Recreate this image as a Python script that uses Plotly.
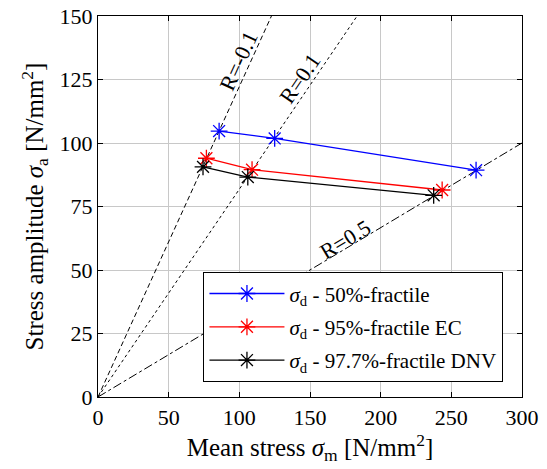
import math
import plotly.graph_objects as go

# Data
r_values = [-0.1, 0.1, 0.5]
r_labels = ["R=-0.1", "R=0.1", "R=0.5"]
r_dash = ["5px,3px", "dot", "dashdot"]
r_label_pos_x = [99.8, 143.0, 175.0]
r_label_pos_y = [132.3, 125.2, 62.0]

series_names = ["<i>σ</i><sub>d</sub> - 50%-fractile",
                "<i>σ</i><sub>d</sub> - 95%-fractile EC",
                "<i>σ</i><sub>d</sub> - 97.7%-fractile DNV"]
series_colors = ["#0000ff", "#ff0000", "#000000"]
x_blue = [85.7, 125.0, 267.5]
y_blue = [104.7, 101.8, 89.3]
x_red = [76.7, 109.0, 243.5]
y_red = [94.0, 89.5, 81.5]
x_black = [74.3, 106.0, 237.5]
y_black = [90.6, 86.6, 79.4]

x_ticks = [0, 50, 100, 150, 200, 250, 300]
y_ticks = [0, 25, 50, 75, 100, 125, 150]
x_max, y_max = 300, 150

FONT = "Liberation Serif"
fig = go.Figure()

for R, dash in zip(r_values, r_dash):
    k = (1 - R) / (1 + R)
    xe = min(x_max, y_max / k)
    ye = k * xe
    fig.add_trace(go.Scatter(x=[0, xe], y=[0, ye], mode="lines",
                             line=dict(color="black", width=1, dash=dash),
                             showlegend=False, hoverinfo="skip"))

for i, (name, col, xs, ys) in enumerate(zip(series_names, series_colors,
                                            [x_blue, x_red, x_black], [y_blue, y_red, y_black])):
    fig.add_trace(go.Scatter(x=xs, y=ys, mode="lines+markers", name=name,
                             legendgroup=f"g{i}",
                             line=dict(color=col, width=1.3),
                             marker=dict(symbol="asterisk-open", size=14,
                                         color=col, line=dict(color=col, width=1.3))))

plot_w, plot_h = 424, 381
for R, lab, lx, ly in zip(r_values, r_labels, r_label_pos_x, r_label_pos_y):
    k = (1 - R) / (1 + R)
    ang = math.degrees(math.atan(k * (plot_h / y_max) / (plot_w / x_max)))
    fig.add_annotation(x=lx, y=ly, text=lab, showarrow=False, textangle=-ang,
                       font=dict(family=FONT, size=22, color="black"))

axis_common = dict(showline=True, linecolor="black", linewidth=1.3, mirror="ticks",
                   ticks="inside", ticklen=5, tickcolor="black", automargin=False,
                   showgrid=True, gridcolor="#c8c8c8", gridwidth=1, zeroline=False,
                   tickfont=dict(family=FONT, size=22, color="black"))

fig.update_xaxes(range=[0, x_max], tickvals=x_ticks,
                 title=dict(text="Mean stress <i>σ</i><sub>m</sub> [N/mm<sup>2</sup>]",
                            font=dict(family=FONT, size=25, color="black"), standoff=6),
                 **axis_common)
fig.update_yaxes(range=[0, y_max], tickvals=y_ticks,
                 title=dict(text="Stress amplitude <i>σ</i><sub>a</sub> [N/mm<sup>2</sup>]",
                            font=dict(family=FONT, size=25, color="black"), standoff=8),
                 **axis_common)

fig.update_layout(
    width=547, height=469,
    margin=dict(l=98, r=25, t=16, b=72),
    plot_bgcolor="white", paper_bgcolor="white",
    font=dict(family=FONT, color="black"),
    legend=dict(x=0.248, y=0.328, xanchor="left", yanchor="top",
                bgcolor="white", bordercolor="black", borderwidth=1.3,
                font=dict(family=FONT, size=21, color="black"),
                itemwidth=75, tracegroupgap=3),
)

fig.write_html("out.html", config={"displayModeBar": False},
               post_script="document.body.style.margin='0';document.body.style.overflow='hidden';")
